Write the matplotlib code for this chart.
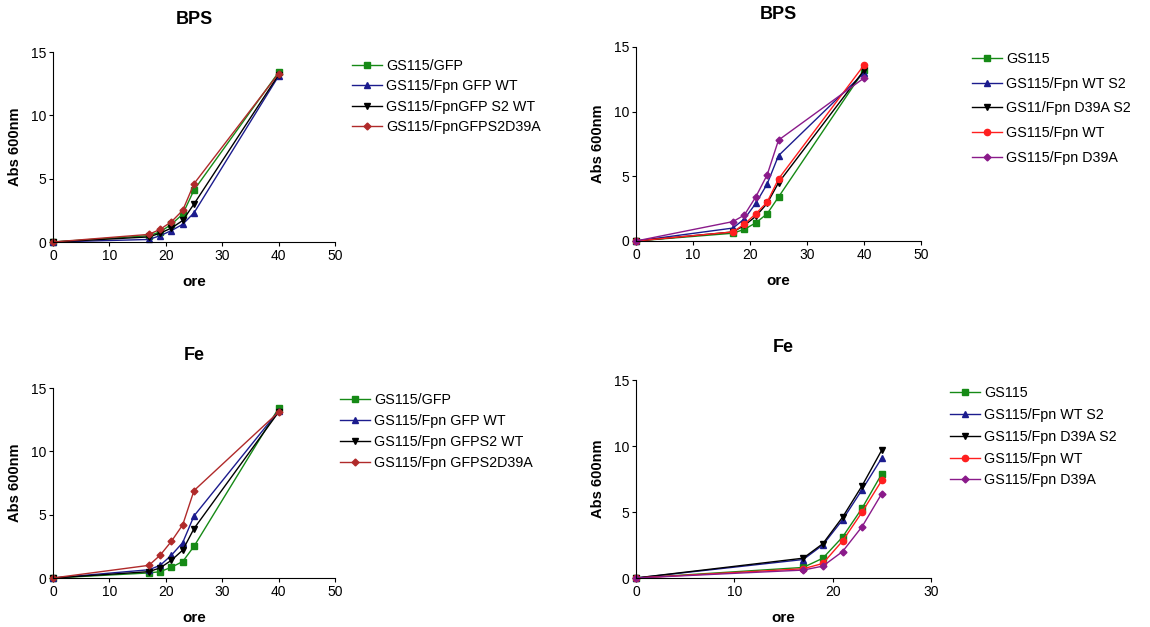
import numpy as np
import matplotlib
matplotlib.use("Agg")
import matplotlib.pyplot as plt

plt.rcParams['font.family'] = ['Liberation Sans', 'DejaVu Sans']

# ore
ore = [0, 17, 19, 21, 23, 25, 40]
ore_fe2 = [0, 17, 19, 21, 23, 25]

# BPS, sinistra
bps1_labels = ["GS115/GFP", "GS115/Fpn GFP WT", "GS115/FpnGFP S2 WT", "GS115/FpnGFPS2D39A"]
bps1_gfp = [0, 0.5, 0.8, 1.4, 2.2, 4.1, 13.4]
bps1_wt = [0, 0.2, 0.5, 0.9, 1.4, 2.3, 13.1]
bps1_s2wt = [0, 0.4, 0.7, 1.1, 1.7, 3.0, 13.2]
bps1_d39a = [0, 0.6, 1.0, 1.6, 2.5, 4.6, 13.3]

# BPS, destra
bps2_labels = ["GS115", "GS115/Fpn WT S2", "GS11/Fpn D39A S2", "GS115/Fpn WT", "GS115/Fpn D39A"]
bps2_gs = [0, 0.6, 0.9, 1.4, 2.1, 3.4, 13.2]
bps2_wts2 = [0, 1.0, 1.7, 2.9, 4.4, 6.6, 13.0]
bps2_d39as2 = [0, 0.7, 1.2, 1.9, 2.9, 4.5, 13.2]
bps2_wt = [0, 0.7, 1.3, 2.1, 3.0, 4.8, 13.6]
bps2_d39a = [0, 1.5, 2.0, 3.4, 5.1, 7.8, 12.6]

# Fe, sinistra
fe1_labels = ["GS115/GFP", "GS115/Fpn GFP WT", "GS115/Fpn GFPS2 WT", "GS115/Fpn GFPS2D39A"]
fe1_gfp = [0, 0.4, 0.5, 0.85, 1.3, 2.5, 13.4]
fe1_wt = [0, 0.65, 1.0, 1.8, 2.8, 4.9, 13.2]
fe1_s2wt = [0, 0.5, 0.8, 1.4, 2.2, 3.9, 13.1]
fe1_d39a = [0, 1.0, 1.8, 2.9, 4.2, 6.9, 13.1]

# Fe, destra
fe2_labels = ["GS115", "GS115/Fpn WT S2", "GS115/Fpn D39A S2", "GS115/Fpn WT", "GS115/Fpn D39A"]
fe2_gs = [0, 0.8, 1.5, 3.1, 5.3, 7.9]
fe2_wts2 = [0, 1.4, 2.5, 4.4, 6.7, 9.1]
fe2_d39as2 = [0, 1.5, 2.6, 4.6, 7.0, 9.7]
fe2_wt = [0, 0.7, 1.1, 2.8, 5.0, 7.4]
fe2_d39a = [0, 0.6, 0.9, 2.0, 3.9, 6.4]

GREEN = '#168a16'
BLUE = '#1c1c8e'
BLACK = '#000000'
DRED = '#b02a2a'
RED = '#ff1f1f'
PURPLE = '#8a1a8a'

W, H = 1150, 627
fig = plt.figure(figsize=(W / 100, H / 100), dpi=100)


def make_ax(x0, x1, y0, y1):
    # coordinate in pixel: x0/x1 = asse x, y0 = zero, y1 = 15
    return fig.add_axes([x0 / W, 1 - y0 / H, (x1 - x0) / W, (y0 - y1) / H])


def style(ax, title, xmax, xticks):
    ax.set_xlim(0, xmax)
    ax.set_ylim(0, 15)
    ax.set_xticks(xticks)
    ax.set_yticks([0, 5, 10, 15])
    ax.spines['top'].set_visible(False)
    ax.spines['right'].set_visible(False)
    ax.tick_params(direction='out', length=3, labelsize=10, pad=2)
    ax.set_title(title, fontsize=13, fontweight='bold', pad=20)
    ax.set_xlabel("ore", fontsize=11, fontweight='bold', labelpad=9)
    ax.set_ylabel("Abs 600nm", fontsize=10.5, fontweight='bold', labelpad=6)


def plot_series(ax, x, series, labels, colors, markers, sizes):
    for y, lab, c, m, s in zip(series, labels, colors, markers, sizes):
        ax.plot(x, y, color=c, marker=m, markersize=s, lw=1, label=lab, clip_on=False)


def legend(ax, x, y, spacing):
    ax.legend(loc='upper left', bbox_to_anchor=(x / W, 1 - y / H), bbox_transform=fig.transFigure,
              frameon=False, fontsize=10.3, handlelength=2.1, handletextpad=0.3,
              labelspacing=spacing, borderpad=0, borderaxespad=0)


# BPS sinistra
ax1 = make_ax(53, 335, 242, 52)
plot_series(ax1, ore, [bps1_gfp, bps1_wt, bps1_s2wt, bps1_d39a], bps1_labels,
            [GREEN, BLUE, BLACK, DRED], ['s', '^', 'v', 'D'], [5, 5, 5, 3.5])
style(ax1, "BPS", 50, [0, 10, 20, 30, 40, 50])
legend(ax1, 352, 59, 0.45)

# BPS destra
ax2 = make_ax(636, 921, 241, 47)
plot_series(ax2, ore, [bps2_gs, bps2_wts2, bps2_d39as2, bps2_wt, bps2_d39a], bps2_labels,
            [GREEN, BLUE, BLACK, RED, PURPLE], ['s', '^', 'v', 'o', 'D'], [5, 5, 5, 4.5, 3.5])
style(ax2, "BPS", 50, [0, 10, 20, 30, 40, 50])
ax2.title.set_y(1.02)
legend(ax2, 972, 52, 0.75)

# Fe sinistra
ax3 = make_ax(53, 335, 578, 388)
plot_series(ax3, ore, [fe1_gfp, fe1_wt, fe1_s2wt, fe1_d39a], fe1_labels,
            [GREEN, BLUE, BLACK, DRED], ['s', '^', 'v', 'D'], [5, 5, 5, 3.5])
style(ax3, "Fe", 50, [0, 10, 20, 30, 40, 50])
legend(ax3, 340, 393, 0.5)

# Fe destra
ax4 = make_ax(636, 931, 578, 380)
plot_series(ax4, ore_fe2, [fe2_gs, fe2_wts2, fe2_d39as2, fe2_wt, fe2_d39a], fe2_labels,
            [GREEN, BLUE, BLACK, RED, PURPLE], ['s', '^', 'v', 'o', 'D'], [5, 5, 5, 4.5, 3.5])
style(ax4, "Fe", 30, [0, 10, 20, 30])
legend(ax4, 950, 386, 0.55)

fig.savefig("out.png", dpi=100)
